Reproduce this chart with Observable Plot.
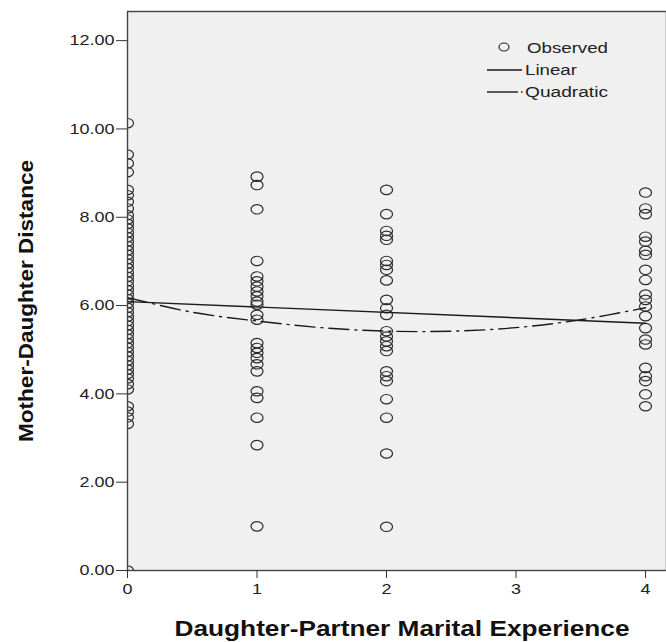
<!DOCTYPE html>
<html><head><meta charset="utf-8">
<script src="https://cdn.jsdelivr.net/npm/d3@7"></script>
<script src="https://cdn.jsdelivr.net/npm/@observablehq/plot@0.6"></script>
<style>
body{margin:0;background:#fff;font-family:"Liberation Sans",Arial,sans-serif}
#wrap{position:relative;width:666px;height:642px;overflow:hidden}
#overlay{position:absolute;left:0;top:0}
</style>
</head><body><div id="wrap"></div>
<script>
// Observed values by Daughter-Partner Marital Experience
const obsAt0 = [10.13, 9.42, 9.22, 9.02, 8.62, 8.5, 8.35, 8.2, 8.05, 7.95, 7.85, 7.75, 7.65, 7.55, 7.45, 7.35, 7.25, 7.15, 7.05, 6.95, 6.85, 6.75, 6.65, 6.55, 6.45, 6.35, 6.25, 6.15, 6.05, 5.95, 5.85, 5.75, 5.65, 5.55, 5.45, 5.35, 5.25, 5.15, 5.05, 4.95, 4.85, 4.75, 4.65, 4.55, 4.45, 4.35, 4.22, 4.1, 3.72, 3.6, 3.47, 3.32, 0];
const obsAt1 = [8.92, 8.73, 8.18, 7.01, 6.66, 6.55, 6.43, 6.32, 6.21, 6.09, 6.02, 5.79, 5.68, 5.15, 5.04, 4.93, 4.81, 4.67, 4.51, 4.06, 3.91, 3.46, 2.84, 1.0];
const obsAt2 = [8.62, 8.07, 7.69, 7.58, 7.49, 7.01, 6.92, 6.81, 6.57, 6.13, 5.94, 5.79, 5.42, 5.30, 5.19, 5.08, 4.97, 4.51, 4.40, 4.29, 3.88, 3.46, 2.65, 0.99];
const obsAt4 = [8.56, 8.20, 8.07, 7.56, 7.45, 7.24, 7.15, 6.81, 6.58, 6.25, 6.13, 5.98, 5.76, 5.49, 5.23, 5.12, 4.59, 4.40, 4.29, 3.99, 3.72];

// Fit lines
const linearX = [0, 4];
const linearY = [6.09, 5.6];
const quadX = [0, 0.5, 1, 1.5, 2, 2.5, 3, 3.5, 4];
const quadY = [6.18, 5.85, 5.65, 5.5, 5.42, 5.42, 5.5, 5.68, 5.95];

const xTicks = [0, 1, 2, 3, 4];
const yTicks = [0, 2, 4, 6, 8, 10, 12];
const legendItems = ["Observed", "Linear", "Quadratic"];
const xTitle = "Daughter-Partner Marital Experience";
const yTitle = "Mother-Daughter Distance";

const observed = [
  ...obsAt0.map(v => ({x: 0, y: v})),
  ...obsAt1.map(v => ({x: 1, y: v})),
  ...obsAt2.map(v => ({x: 2, y: v})),
  ...obsAt4.map(v => ({x: 4, y: v}))
];
const linear = linearX.map((x, i) => ({x, y: linearY[i]}));
const quad = quadX.map((x, i) => ({x, y: quadY[i]}));

const ellipse = {
  draw(ctx, size) {
    const rx = 6, ry = 4.7, k = 0.5523;
    ctx.moveTo(rx, 0);
    ctx.bezierCurveTo(rx, ry * k, rx * k, ry, 0, ry);
    ctx.bezierCurveTo(-rx * k, ry, -rx, ry * k, -rx, 0);
    ctx.bezierCurveTo(-rx, -ry * k, -rx * k, -ry, 0, -ry);
    ctx.bezierCurveTo(rx * k, -ry, rx, -ry * k, rx, 0);
    ctx.closePath();
  }
};

const chart = Plot.plot({
  width: 666,
  height: 642,
  marginLeft: 127,
  marginRight: 0,
  marginTop: 11,
  marginBottom: 72,
  style: {fontFamily: "'Liberation Sans', Arial, sans-serif", fontSize: "15px", color: "#222", background: "transparent"},
  x: {domain: [0, 4.162]},
  y: {domain: [0, 12.66]},
  marks: [
    Plot.frame({fill: "#f0f0f0", stroke: "none"}),
    Plot.dot(observed, {x: "x", y: "y", symbol: ellipse, r: 5, stroke: "#2a2a2a", strokeWidth: 1.2, fill: "none", clip: true}),
    Plot.line(linear, {x: "x", y: "y", stroke: "#1a1a1a", strokeWidth: 1.4}),
    Plot.line(quad, {x: "x", y: "y", stroke: "#1a1a1a", strokeWidth: 1.4, curve: "catmull-rom", strokeDasharray: "20,6,2,6"}),
    Plot.frame({stroke: "#444", strokeWidth: 1.4}),
    Plot.axisY({ticks: yTicks, tickFormat: d3.format(".2f"), tickSize: 11, tickPadding: 2, label: null, fontSize: 15, stroke: "#333"}),
    Plot.axisX({ticks: xTicks, tickFormat: d3.format("d"), tickSize: 8, tickPadding: 5, label: null, fontSize: 15, stroke: "#333"})
  ]
});

const wrap = document.getElementById("wrap");
wrap.appendChild(chart);

// SPSS output is horizontally stretched: widen tick label glyphs accordingly
chart.querySelectorAll("text").forEach(t => {
  const len = t.getComputedTextLength();
  if (len > 0) {
    t.setAttribute("textLength", (len * 1.2).toFixed(1));
    t.setAttribute("lengthAdjust", "spacingAndGlyphs");
  }
});

// Legend and axis titles
const ns = "http://www.w3.org/2000/svg";
const ov = document.createElementNS(ns, "svg");
ov.setAttribute("id", "overlay");
ov.setAttribute("width", 666); ov.setAttribute("height", 642);
ov.innerHTML = `
  <ellipse cx="504" cy="47" rx="5" ry="4" fill="none" stroke="#2a2a2a" stroke-width="1.2"/>
  <line x1="487" x2="522" y1="70" y2="70" stroke="#1a1a1a" stroke-width="1.4"/>
  <line x1="487" x2="518" y1="92" y2="92" stroke="#1a1a1a" stroke-width="1.4"/>
  <line x1="521" x2="522.5" y1="92" y2="92" stroke="#1a1a1a" stroke-width="1.4"/>
  <g font-family="'Liberation Sans', Arial, sans-serif" font-size="15.5" fill="#222">
    <text x="527" y="52.5" textLength="81" lengthAdjust="spacingAndGlyphs">${legendItems[0]}</text>
    <text x="525" y="75" textLength="52" lengthAdjust="spacingAndGlyphs">${legendItems[1]}</text>
    <text x="525" y="97" textLength="83" lengthAdjust="spacingAndGlyphs">${legendItems[2]}</text>
  </g>
  <g font-family="'Liberation Sans', Arial, sans-serif" font-weight="bold" fill="#111">
    <text x="402" y="636" font-size="22" text-anchor="middle" textLength="455" lengthAdjust="spacingAndGlyphs">${xTitle}</text>
    <text transform="translate(33,301) rotate(-90)" font-size="21" text-anchor="middle" textLength="282" lengthAdjust="spacingAndGlyphs">${yTitle}</text>
  </g>`;
wrap.appendChild(ov);
</script>
</body></html>
